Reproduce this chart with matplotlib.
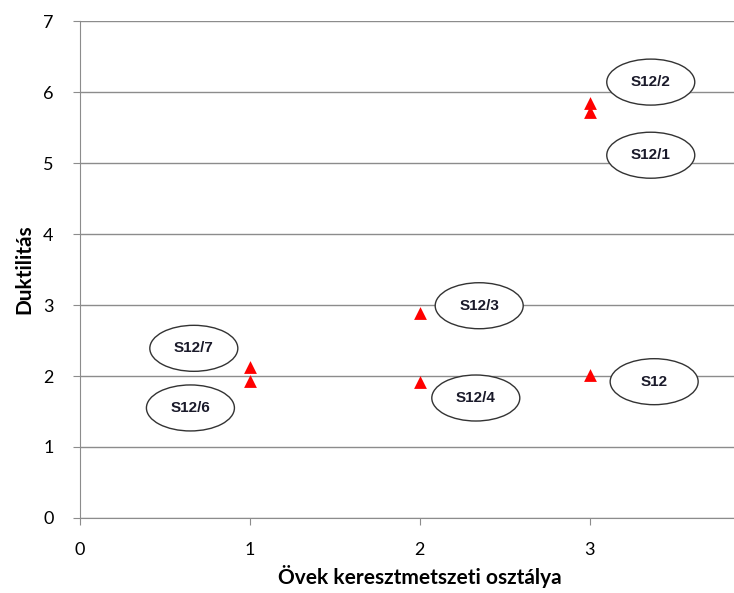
import matplotlib
matplotlib.use("Agg")
import matplotlib.pyplot as plt
from matplotlib.patches import Ellipse

# data
classes = [3, 3, 2, 2, 1, 1, 3]
ductility = [5.85, 5.72, 2.89, 1.92, 2.13, 1.93, 2.01]

labels = ["S12/2", "S12/1", "S12/3", "S12/4", "S12/7", "S12/6", "S12"]
label_x = [3.36, 3.36, 2.35, 2.33, 0.67, 0.65, 3.38]
label_y = [6.14, 5.11, 2.99, 1.69, 2.39, 1.55, 1.92]

xticks = [0, 1, 2, 3]
yticks = [0, 1, 2, 3, 4, 5, 6, 7]

plt.rcParams['font.family'] = ['Lato', 'DejaVu Sans']

fig = plt.figure(figsize=(7.34, 5.93), dpi=100)
ax = fig.add_axes([0.109, 0.1265, 0.891, 0.838])
ax.set_xlim(0, 3.85)
ax.set_ylim(0, 7)

ax.set_yticks(yticks)
ax.set_xticks(xticks)
ax.grid(axis='y', color='#8c8c8c', linewidth=1)
ax.set_axisbelow(True)
for s in ['top', 'right']:
    ax.spines[s].set_visible(False)
for s in ['left', 'bottom']:
    ax.spines[s].set_color('#8c8c8c')
ax.tick_params(direction='out', color='#8c8c8c', length=5, labelsize=13)
ax.tick_params(axis='x', pad=12)
ax.tick_params(axis='y', pad=14)

ax.scatter(classes, ductility, marker='^', color='#ff0000', s=85, zorder=3, linewidths=0)

ew = 88 / (0.891 * 734) * 3.85
eh = 46 / (0.838 * 593) * 7
for t, lx, ly in zip(labels, label_x, label_y):
    e = Ellipse((lx, ly), ew, eh, facecolor='white', edgecolor='#333333', linewidth=1, zorder=4)
    ax.add_patch(e)
    ax.text(lx, ly, t, ha='center', va='center', fontsize=11, fontweight='bold',
            family=['Liberation Sans', 'DejaVu Sans'], color='#1a1a2a', zorder=5)

ax.set_xlabel("Övek keresztmetszeti osztálya", fontsize=15, fontweight='bold')
ax.set_ylabel("Duktilitás", fontsize=15, fontweight='bold')
ax.xaxis.set_label_coords(0.52, -0.095)
ax.yaxis.set_label_coords(-0.07, 0.5)

fig.savefig("out.png", dpi=100)
